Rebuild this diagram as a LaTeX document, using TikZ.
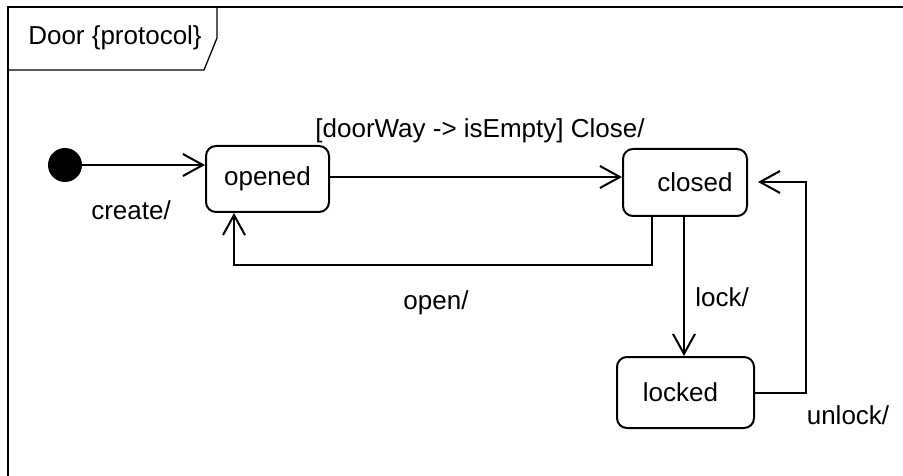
\documentclass[tikz,border=0pt]{standalone}
\usepackage{fontspec}
\setmainfont{Liberation Sans}
\usetikzlibrary{arrows.meta,calc}
\begin{document}
\begin{tikzpicture}[x=1pt,y=-1pt,
  font=\fontsize{26pt}{30pt}\selectfont,
  statebox/.style={draw,line width=2pt,rounded corners=10pt,inner sep=0pt},
  trans/.style={line width=2pt,-{Straight Barb[length=20pt,width=22pt,line width=2pt]}},
  lbl/.style={inner sep=0pt}]
\useasboundingbox (0,0) rectangle (903,476);
\fill[white] (0,0) rectangle (903,476);
% frame and tab
\draw[line width=1.3pt] (8,476) -- (8,7) -- (903,7);
\draw[line width=1.3pt] (8,70) -- (204,70) -- (217,38) -- (217,7);
\node[lbl] (title) at (115,38) {Door \{protocol\}};
% nodes
\node[circle,fill=black,minimum size=34pt,inner sep=0pt] (init) at (65,165) {};
\node[statebox,minimum width=123pt,minimum height=66pt] (opened) at (267.5,179) {opened};
\node[statebox,minimum width=124pt,minimum height=67pt] (closed) at (685,182.5) {\hspace*{20pt}closed};
\node[statebox,minimum width=137pt,minimum height=71pt] (locked) at (685.5,392.5) {locked\hspace*{10pt}};
% helper coordinates
\coordinate (r1) at (0,177);
\coordinate (o1) at (652,265);
\coordinate (o2) at (234,265);
\coordinate (lk) at (684,300);
\coordinate (u1) at (806,182);
% transitions
\draw[trans] (init) -- (init -| opened.west);
\draw[trans] (opened.east |- r1) -- (closed.west |- r1);
\draw[trans] (closed.south -| o1) |- (o2) -- (opened.south -| o2);
\draw[trans] (closed.south -| lk) -- (locked.north -| lk);
\draw[trans,shorten >=10pt] (locked.east) -| (u1) -- (closed.east |- u1);
% labels
\node[lbl] (lcreate) at (131,210) {create/};
\node[lbl] (lclose) at (480,131) {[doorWay -> isEmpty] Close/};
\node[lbl] (lopen) at (436,303) {open/};
\node[lbl] (llock) at (722,297) {lock/};
\node[lbl] (lunlock) at (848,415) {unlock/};
\end{tikzpicture}
\end{document}
